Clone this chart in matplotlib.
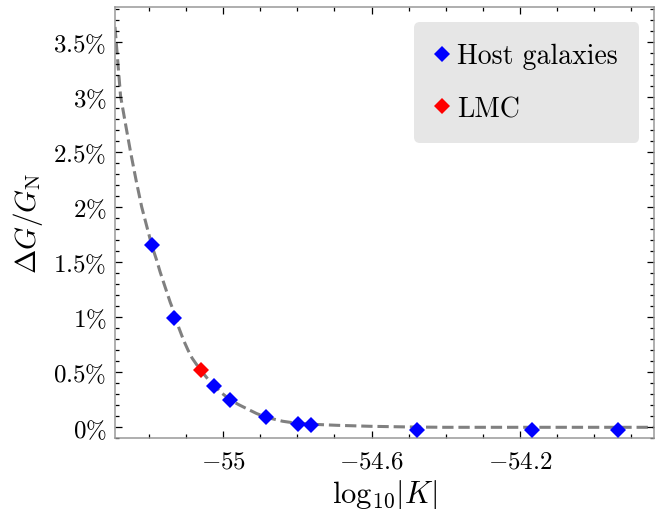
import matplotlib
matplotlib.use("Agg")
import matplotlib.pyplot as plt
from matplotlib.ticker import MultipleLocator, FixedLocator, FuncFormatter

plt.rcParams["font.family"] = "serif"
plt.rcParams["font.serif"] = ["cmr10", "DejaVu Serif"]
plt.rcParams["mathtext.fontset"] = "cm"
plt.rcParams["axes.unicode_minus"] = True

# host galaxies: log10|K| and the implied change in G (percent)
host_logk = [-55.193, -55.134, -55.024, -54.981, -54.884, -54.799,
             -54.763, -54.477, -54.166, -53.936]
host_dg = [1.654, 0.992, 0.377, 0.248, 0.091, 0.030, 0.021,
           -0.025, -0.025, -0.025]

# Large Magellanic Cloud
lmc_logk = [-55.060]
lmc_dg = [0.523]

# fitted trend
fit_logk = [-55.292, -55.277, -55.263, -55.250, -55.235, -55.220, -55.206,
            -55.193, -55.180, -55.170, -55.156, -55.143, -55.134, -55.120,
            -55.107, -55.095, -55.084, -55.072, -55.060, -55.042, -55.024,
            -55.003, -54.981, -54.958, -54.936, -54.910, -54.884, -54.840,
            -54.799, -54.750, -54.693, -54.603, -54.500, -54.406, -54.200,
            -54.000, -53.837]
fit_dg = [3.633, 3.006, 2.740, 2.498, 2.240, 2.000, 1.820,
          1.654, 1.520, 1.407, 1.265, 1.134, 1.055, 0.905,
          0.790, 0.700, 0.628, 0.570, 0.515, 0.440, 0.377,
          0.308, 0.248, 0.205, 0.168, 0.125, 0.091, 0.055,
          0.035, 0.026, 0.018, 0.009, 0.003, 0.0, 0.0,
          0.0, 0.0]

fig = plt.figure(figsize=(6.56, 5.10), dpi=100)
ax = fig.add_axes([0.1753, 0.1386, 0.8222, 0.8457])

ax.plot(fit_logk, fit_dg, ls="--", lw=2.2, color="#808080", zorder=1)
ax.plot(host_logk, host_dg, ls="none", marker="D", ms=8, mew=0,
        color="#0000ff", label="Host galaxies", zorder=3)
ax.plot(lmc_logk, lmc_dg, ls="none", marker="D", ms=8, mew=0,
        color="#ff0000", label="LMC", zorder=3)

ax.set_xlim(-55.292, -53.837)
ax.set_ylim(-0.1, 3.814)

ax.xaxis.set_major_locator(FixedLocator([-55.0, -54.6, -54.2]))
ax.xaxis.set_minor_locator(MultipleLocator(0.1))
ax.yaxis.set_major_locator(MultipleLocator(0.5))
ax.yaxis.set_minor_locator(MultipleLocator(0.1))
ax.xaxis.set_major_formatter(FuncFormatter(lambda v, p: r"$%g$" % round(v, 2)))
ax.yaxis.set_major_formatter(FuncFormatter(lambda v, p: r"$%g\%%$" % round(v, 2)))

ax.tick_params(which="both", direction="in", top=True, right=True,
               width=0.9, color="black")
ax.tick_params(which="major", length=5, labelsize=18)
ax.tick_params(which="minor", length=3)
ax.tick_params(axis="x", which="major", pad=9)
ax.tick_params(axis="y", which="major", pad=6)
for sp in ax.spines.values():
    sp.set_color("0.6")
    sp.set_linewidth(1.1)

ax.set_xlabel(r"$\log_{10}\!|K|$", fontsize=22, labelpad=3)
ax.set_ylabel(r"$\Delta G/G_{\rm N}$", fontsize=21, labelpad=6)

leg = ax.legend(loc="upper right", fontsize=20, frameon=True,
                facecolor="#e6e6e6", edgecolor="none", framealpha=1,
                fancybox=True, handlelength=0.5, handletextpad=0.3,
                labelspacing=0.95, borderpad=0.75, borderaxespad=0.55)

fig.savefig("out.png", dpi=100)
